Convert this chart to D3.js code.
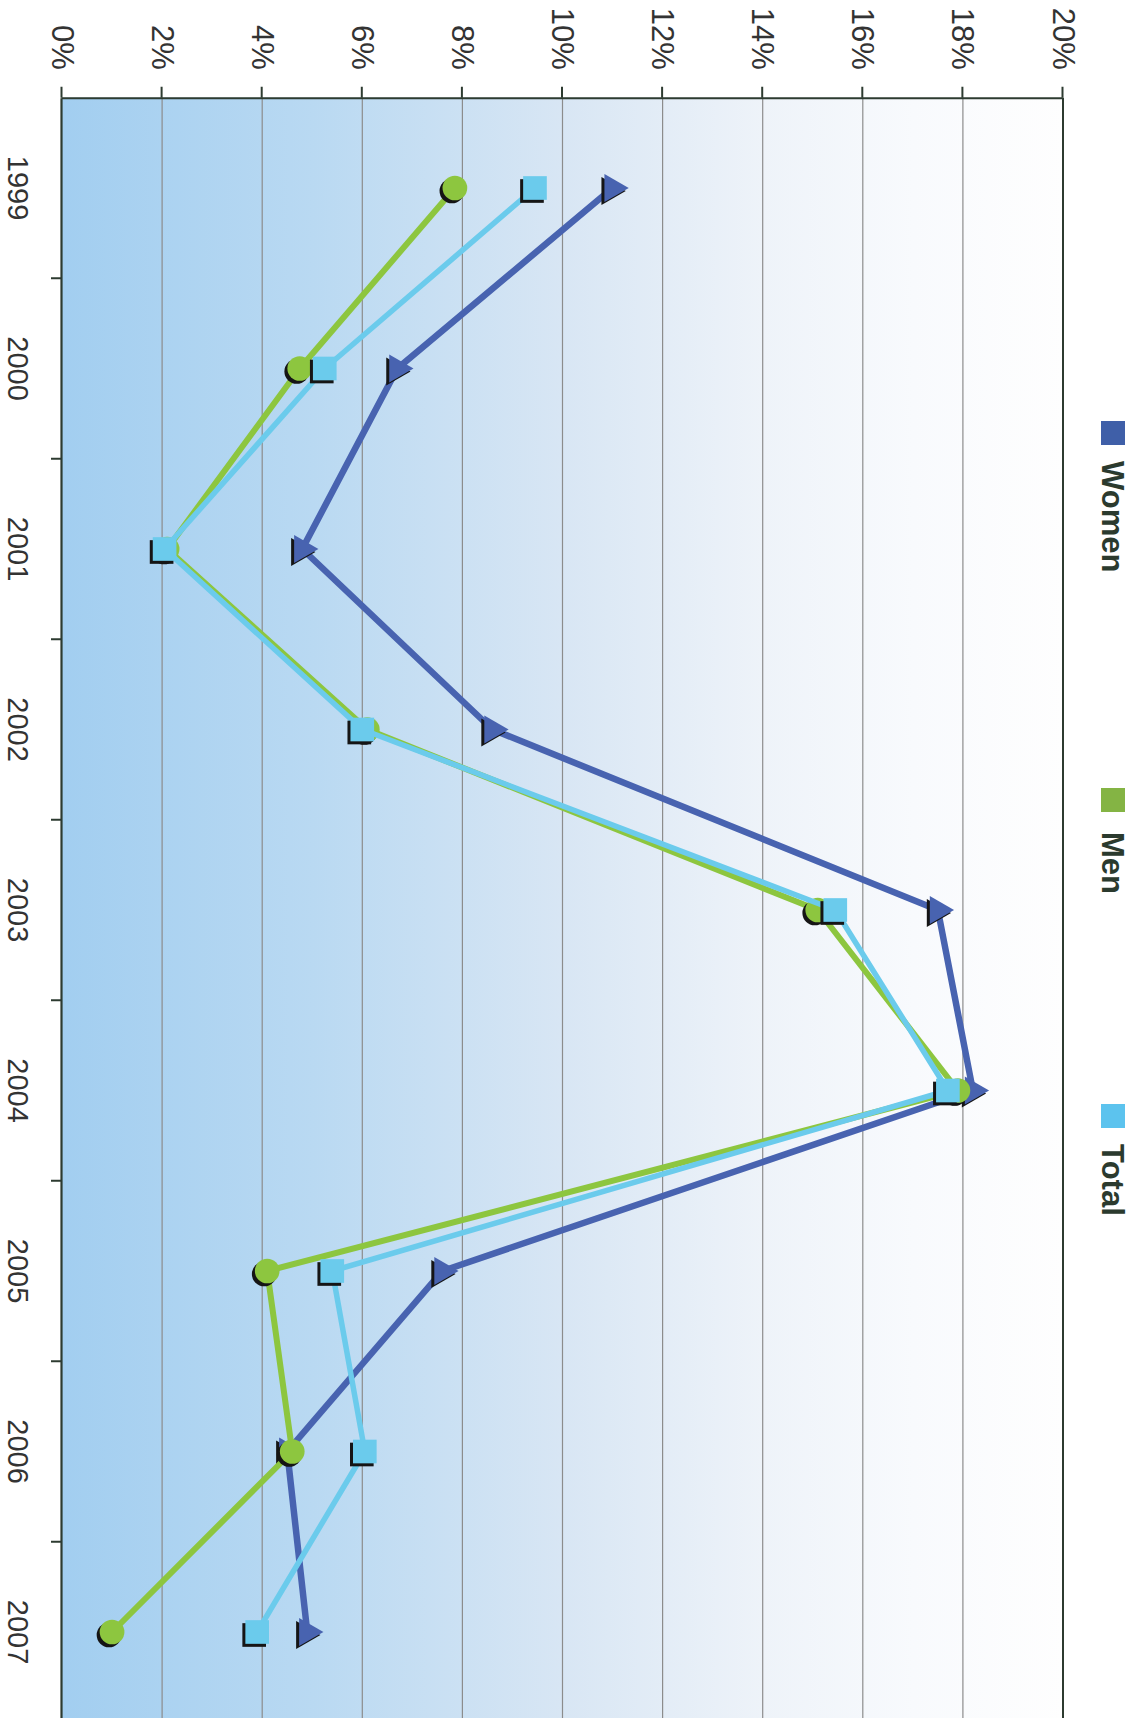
<!DOCTYPE html>
<html>
<head>
<meta charset="utf-8">
<script src="https://cdn.jsdelivr.net/npm/d3@7"></script>
<style>
  html, body { margin: 0; padding: 0; background: #ffffff; }
  svg { display: block; }
</style>
</head>
<body>
<script>
// ---- Data ----
const years = ["1999", "2000", "2001", "2002", "2003", "2004", "2005", "2006", "2007"];
const women = [11.0, 6.7, 4.8, 8.6, 17.5, 18.2, 7.6, 4.5, 4.9];
const men   = [7.85, 4.75, 2.1, 6.1, 15.1, 17.9, 4.1, 4.6, 1.0];
const total = [9.45, 5.25, 2.05, 6.0, 15.45, 17.7, 5.4, 6.05, 3.9];
const valueTicks = [0, 2, 4, 6, 8, 10, 12, 14, 16, 18, 20];
const seriesNames = ["Women", "Men", "Total"];

// ---- Setup ----
const W = 1139, H = 1718;
const svg = d3.select("body").append("svg").attr("width", W).attr("height", H);
const defs = svg.append("defs");

// Chart drawn in a frame rotated 90° clockwise
const g = svg.append("g").attr("transform", `translate(${W},0) rotate(90)`);

const x = d3.scaleBand().domain(years).range([97.75, 1722.25]).padding(0);
const y = d3.scaleLinear().domain([0, 20]).range([1077, 76]);
const bw = x.bandwidth();

const colors = { Women: "#4863b0", Men: "#8dc63f", Total: "#6bcbec" };
const lineW = { Women: 6.5, Men: 6, Total: 5.5 };

// background gradient (blue at 0% -> white at 20%)
const grad = defs.append("linearGradient").attr("id", "bg")
  .attr("gradientUnits", "userSpaceOnUse")
  .attr("x1", 0).attr("y1", y(0)).attr("x2", 0).attr("y2", y(20));
[[0, "#a2cef0"], [0.25, "#b9d9f2"], [0.5, "#d8e6f4"], [0.7, "#eef3f9"], [0.85, "#f8fafd"], [1, "#fefefe"]]
  .forEach(([o, c]) => grad.append("stop").attr("offset", o).attr("stop-color", c));

const plotLeft = x.range()[0], plotRight = x.range()[1];
g.append("rect")
  .attr("x", plotLeft).attr("y", y(20))
  .attr("width", plotRight - plotLeft).attr("height", y(0) - y(20))
  .attr("fill", "url(#bg)");

// gridlines
g.append("g").selectAll("line")
  .data(valueTicks.filter(t => t > 0 && t < 20))
  .join("line")
  .attr("x1", plotLeft).attr("x2", plotRight)
  .attr("y1", d => y(d)).attr("y2", d => y(d))
  .attr("stroke", "#8c8c8c").attr("stroke-width", 1.2);

// right border at 20%
g.append("line")
  .attr("x1", plotLeft).attr("x2", plotRight)
  .attr("y1", y(20)).attr("y2", y(20))
  .attr("stroke", "#2d3b30").attr("stroke-width", 2);

// value axis (top on screen)
const yAxis = g.append("g").attr("transform", `translate(${plotLeft},0)`)
  .call(d3.axisLeft(y).tickValues(valueTicks).tickFormat(d => d + "%")
    .tickSize(11).tickSizeOuter(0).tickPadding(17));
yAxis.select(".domain").attr("stroke", "#2d3b30").attr("stroke-width", 2);
yAxis.selectAll(".tick line").attr("stroke", "#2d3b30").attr("stroke-width", 2);
yAxis.selectAll(".tick text")
  .attr("font-family", "'Liberation Sans', Arial, sans-serif")
  .attr("font-size", 31).attr("fill", "#333");

// category axis (left on screen)
const xAxis = g.append("g").attr("transform", `translate(0,${y(0)})`)
  .call(d3.axisBottom(x).tickSize(0).tickSizeOuter(0).tickPadding(33));
xAxis.select(".domain").attr("stroke", "#2d3b30").attr("stroke-width", 2.2);
xAxis.selectAll(".tick text")
  .attr("font-family", "'Liberation Sans', Arial, sans-serif")
  .attr("font-size", 29).attr("fill", "#333");
g.append("g").selectAll("line")
  .data(years.slice(1))
  .join("line")
  .attr("x1", d => x(d)).attr("x2", d => x(d))
  .attr("y1", y(0)).attr("y2", y(0) + 11)
  .attr("stroke", "#2d3b30").attr("stroke-width", 2);

// series
const series = [
  { name: "Women", values: women, symbol: d3.symbolTriangle, size: 340 },
  { name: "Men", values: men, symbol: d3.symbolCircle, size: 480 },
  { name: "Total", values: total, symbol: d3.symbolSquare, size: 560 }
];
const line = d3.line().x((d, i) => x(years[i]) + bw / 2).y(d => y(d));

series.forEach(s => {
  const sg = g.append("g");
  sg.append("path").datum(s.values)
    .attr("d", line)
    .attr("fill", "none")
    .attr("stroke", colors[s.name])
    .attr("stroke-width", lineW[s.name])
    .attr("stroke-linejoin", "round");
  const sym = d3.symbol().type(s.symbol).size(s.size);
  sg.selectAll("path.shadow").data(s.values).join("path")
    .attr("class", "shadow")
    .attr("d", sym)
    .attr("transform", (d, i) => `translate(${x(years[i]) + bw / 2 + 3},${y(d) + 3})`)
    .attr("fill", "#151515");
  sg.selectAll("path.mark").data(s.values).join("path")
    .attr("class", "mark")
    .attr("d", sym)
    .attr("transform", (d, i) => `translate(${x(years[i]) + bw / 2},${y(d)})`)
    .attr("fill", colors[s.name]);
});

// legend (right side on screen)
const legendPos = { Women: [421, 461], Men: [788, 832], Total: [1104, 1144] };
const legendSwatch = { Women: "#3f5fa8", Men: "#84b444", Total: "#5cc3ee" };
seriesNames.forEach(n => {
  const [su, tu] = legendPos[n];
  g.append("rect").attr("x", su).attr("y", 14).attr("width", 24).attr("height", 24)
    .attr("fill", legendSwatch[n]);
  g.append("text").attr("x", tu).attr("y", 37)
    .attr("font-family", "'Liberation Sans', Arial, sans-serif")
    .attr("font-weight", "bold").attr("font-size", 31)
    .attr("fill", "#2b3a2e")
    .text(n);
});
</script>
</body>
</html>
